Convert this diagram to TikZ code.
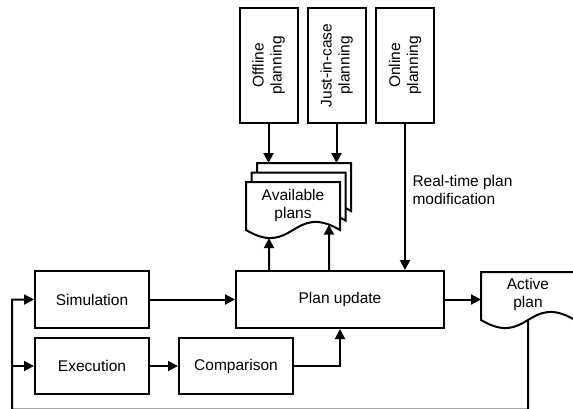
\documentclass[tikz,border=0pt]{standalone}
\usepackage{fontspec}
\setmainfont{Liberation Sans}
\usetikzlibrary{arrows.meta,intersections}
\newcommand\mydocshape[5]{%
  \path[#1] (#2,#3) -- ({#2+#4},#3) -- ({#2+#4},{#3+#5})
    .. controls ({#2+0.5*#4},{#3+#5-28}) and ({#2+0.5*#4},{#3+#5+28}) .. (#2,{#3+#5}) -- cycle;}
\begin{document}
\begin{tikzpicture}[x=1pt,y=-1pt,
  line width=2pt,
  font=\fontsize{15.5}{18}\selectfont,
  box/.style={draw, line width=2pt, inner sep=0pt, align=center},
  vbox/.style={box, minimum width=58pt, minimum height=115pt},
  hbox/.style={box, minimum width=114pt, minimum height=57pt},
  doc/.style={draw, fill=white, line width=2pt},
  lbl/.style={inner sep=0pt, align=center},
  arr/.style={-{Triangle[length=10pt 0 0,width=10pt 0 0]}},
]
\useasboundingbox (0,0) rectangle (573,408);

% top planning boxes
\node[vbox] (off) at (268.5,65.5) {};
\node[lbl, rotate=90] (offt) at (off.center) {Offline\\planning};
\node[vbox] (jic) at (336.5,65.5) {};
\node[lbl, rotate=90] (jict) at (jic.center) {Just-in-case\\planning};
\node[vbox] (onl) at (405,65.5) {};
\node[lbl, rotate=90] (onlt) at (onl.center) {Online\\planning};

% available plans stack
\mydocshape{doc}{257}{163}{94}{48}
\mydocshape{doc}{251.5}{172.5}{94}{48}
\mydocshape{doc, name path=front}{246}{182}{94}{48}
\coordinate (bk) at (257,163);
\node[lbl] (avail) at (293,205) {Available\\plans};

% main row
\node[hbox] (sim) at (92,299.5) {Simulation};
\node[hbox, minimum height=56pt] (exe) at (92,366) {Execution};
\node[hbox, minimum height=56pt] (cmp) at (236,366) {Comparison};
\node[box, minimum width=208pt, minimum height=57pt] (upd) at (340,299.5) {Plan update};

% active plan
\mydocshape{doc, name path=actwave}{481}{272}{94}{48}
\coordinate (actNW) at (481,272);
\node[lbl] (act) at (528,294) {Active\\plan};

% label
\node[anchor=west, align=left, inner sep=0pt] (rt) at (411.5,190) {Real-time plan\\modification};

% arrows from planning
\draw[arr] (off.south) -- (off.south |- bk);
\draw[arr] (jic.south) -- (jic.south |- bk);
\draw[arr] (onl.south) -- (onl.south |- upd.north);

% arrows from plan update to available plans
\coordinate (u1) at ([xshift=-71pt]upd.north);
\coordinate (u2) at ([xshift=-11pt]upd.north);
\path[name path=v1] (u1) -- ++(0,-80);
\path[name path=v2] (u2) -- ++(0,-80);
\path[name intersections={of=front and v1, by=f1}];
\path[name intersections={of=front and v2, by=f2}];
\draw[arr] (u1) -- (f1);
\draw[arr] (u2) -- (f2);

% main flow
\draw[arr] (sim.east) -- (sim.east -| upd.west);
\draw[arr] (exe.east) -- (cmp.west);
\draw[arr] (cmp.east) -| (upd.south);
\draw[arr] (upd.east) -- (upd.east -| actNW);

% feedback
\path[name path=av] (528,280) -- (528,360);
\path[name intersections={of=actwave and av, by=actB}];
\coordinate (fbR) at (528,409.5);
\coordinate (fbL) at (12,409.5);
\draw[arr] (actB) -- (fbR) -- (fbL) |- (sim.west);
\draw[arr] (fbL |- exe.west) -- (exe.west);
\end{tikzpicture}
\end{document}
